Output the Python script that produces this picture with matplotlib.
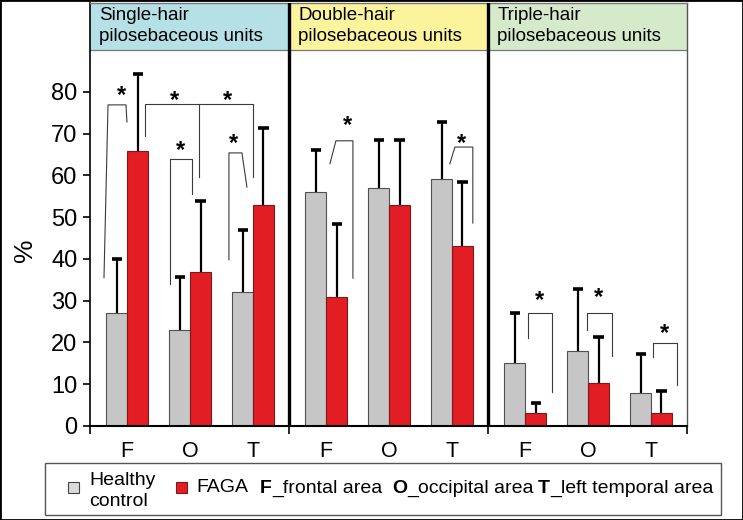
import numpy as np
import matplotlib
matplotlib.use('Agg')
import matplotlib.pyplot as plt
from matplotlib.patches import Rectangle

plt.rcParams['font.family'] = ['Liberation Sans', 'DejaVu Sans']

# data
areas = ['F', 'O', 'T']
units = ['Single-hair\npilosebaceous units',
         'Double-hair\npilosebaceous units',
         'Triple-hair\npilosebaceous units']
header_colors = ['#b5e0e6', '#fcf49d', '#d5eacb']

healthy = [27.0, 23.0, 32.0, 56.0, 57.0, 59.2, 15.1, 18.0, 8.0]
healthy_err = [13.0, 12.6, 15.0, 10.0, 11.6, 13.6, 12.0, 14.8, 9.2]
faga = [65.8, 36.9, 52.9, 30.9, 53.0, 43.0, 3.2, 10.2, 3.2]
faga_err = [18.5, 17.1, 18.4, 17.4, 15.6, 15.4, 2.4, 11.1, 5.3]

# significance brackets (polyline points) and star positions, data coords
brackets = [
    [(0.222, 35.5), (0.286, 76.9), (0.571, 76.9), (0.587, 72.8)],
    [(0.873, 69.5), (0.873, 77.1), (2.587, 77.1), (2.587, 59.6)],
    [(1.730, 77.1), (1.730, 59.6)],
    [(1.270, 34.0), (1.270, 64.0), (1.624, 64.0), (1.624, 55.5)],
    [(2.206, 39.8), (2.206, 65.4), (2.413, 65.4), (2.492, 57.2)],
    [(3.810, 62.8), (3.905, 68.3), (4.175, 68.3), (4.175, 35.4)],
    [(5.714, 62.8), (5.794, 66.8), (6.079, 66.8), (6.079, 48.6)],
    [(6.952, 21.1), (6.952, 27.0), (7.333, 27.0), (7.333, 8.1)],
    [(7.889, 23.0), (7.889, 27.0), (8.286, 27.0), (8.286, 16.8)],
    [(8.937, 16.5), (8.937, 19.9), (9.317, 19.9), (9.317, 9.8)],
]
stars = [(0.508, 80.7), (1.349, 79.3), (2.190, 79.3), (1.444, 67.5),
         (2.286, 69.2), (4.095, 73.3), (5.905, 69.2), (7.143, 31.4),
         (8.079, 32.1), (9.127, 23.5)]

panel_w = 3.16
edges = [i * panel_w for i in range(4)]
centers = np.array([edges[p] + 0.59 + i for p in range(3) for i in range(3)])
bw = 0.33
ytop = 101.3
head_y = 90.0

fig = plt.figure(figsize=(7.43, 5.2), dpi=100)
ax = fig.add_axes([90 / 743, 94 / 520, 597 / 743, 423 / 520])

ax.bar(centers - bw / 2, healthy, bw, color='#c6c6c6', edgecolor='#505050', lw=0.8, zorder=2)
ax.bar(centers + bw / 2, faga, bw, color='#e31d24', edgecolor='#7a1a1a', lw=0.8, zorder=2)

# upper-only error bars with thick caps
cap = 0.08
for xs, v, e in [(centers - bw / 2, healthy, healthy_err), (centers + bw / 2, faga, faga_err)]:
    v = np.array(v)
    e = np.array(e)
    ax.vlines(xs, v, v + e, color='black', lw=1.6, zorder=3)
    ax.hlines(v + e, xs - cap, xs + cap, color='black', lw=2.6, zorder=3)

for pts in brackets:
    xs, ys = zip(*pts)
    ax.plot(xs, ys, color='#3a3a3a', lw=0.8, zorder=4)
for sx, sy in stars:
    ax.text(sx, sy - 3.0, '*', ha='center', va='baseline', fontsize=17,
            fontweight='bold', zorder=5)

# header boxes
for p in range(3):
    ax.add_patch(Rectangle((edges[p], head_y), panel_w, ytop - head_y,
                           facecolor=header_colors[p], edgecolor='none', zorder=0))
    ax.text(edges[p] + 0.15, (head_y + ytop) / 2 + 0.1, units[p], ha='left', va='center',
            fontsize=13.5, linespacing=1.3, zorder=5)
ax.axhline(head_y, color='#777777', lw=0.9, zorder=1)
for e in edges[1:3]:
    ax.axvline(e, color='black', lw=2.4, zorder=5)

ax.set_xlim(0, edges[3])
ax.set_ylim(0, ytop)

ax.set_yticks(np.arange(0, 81, 10))
ax.tick_params(axis='y', labelsize=17, length=5, width=1.2, pad=4)
ax.set_xticks(centers)
ax.set_xticklabels(areas * 3)
ax.tick_params(axis='x', which='major', length=0, labelsize=15.5, pad=11)
ax.set_xticks(edges, minor=True)
ax.tick_params(axis='x', which='minor', length=6, width=1.2, direction='out')
ax.set_ylabel('%', fontsize=19)
ax.yaxis.set_label_coords(-0.088, 0.416)

ax.spines['left'].set_linewidth(1.2)
ax.spines['bottom'].set_linewidth(1.5)
ax.spines['top'].set_color('#777777')
ax.spines['top'].set_linewidth(1.0)
ax.spines['right'].set_color('#555555')
ax.spines['right'].set_linewidth(1.0)


def fx(px):
    return px / 743


def fy(py):
    return (520 - py) / 520


# legend box drawn by hand
fig.patches.append(Rectangle((fx(45), fy(515)), 676 / 743, 52 / 520, transform=fig.transFigure,
                             fill=False, edgecolor='#555555', lw=1.0))
fig.patches.append(Rectangle((fx(68), fy(493)), 11 / 743, 11 / 520, transform=fig.transFigure,
                             facecolor='#dadada', edgecolor='#444444', lw=0.8))
fig.patches.append(Rectangle((fx(176), fy(493)), 11 / 743, 11 / 520, transform=fig.transFigure,
                             facecolor='#e31d24', edgecolor='#7a1a1a', lw=0.8))
fs = 14
fig.text(fx(89), fy(491), 'Healthy\ncontrol', ha='left', va='center', fontsize=fs, linespacing=1.3)
fig.text(fx(196), fy(487), 'FAGA', ha='left', va='center', fontsize=fs)
for px, key, rest in [(260, 'F', '_frontal area'), (392, 'O', '_occipital area'),
                      (538, 'T', '_left temporal area')]:
    t = fig.text(fx(px), fy(497), key, ha='left', va='bottom', fontsize=fs, fontweight='bold')
    ax.annotate(rest, xy=(1, 0), xycoords=t, ha='left', va='bottom', fontsize=fs,
                annotation_clip=False)

# outer border of the image
fig.patches.append(Rectangle((0, 0), 1, 1, transform=fig.transFigure, fill=False,
                             edgecolor='black', lw=2.0))

fig.savefig('out.png', dpi=100)
